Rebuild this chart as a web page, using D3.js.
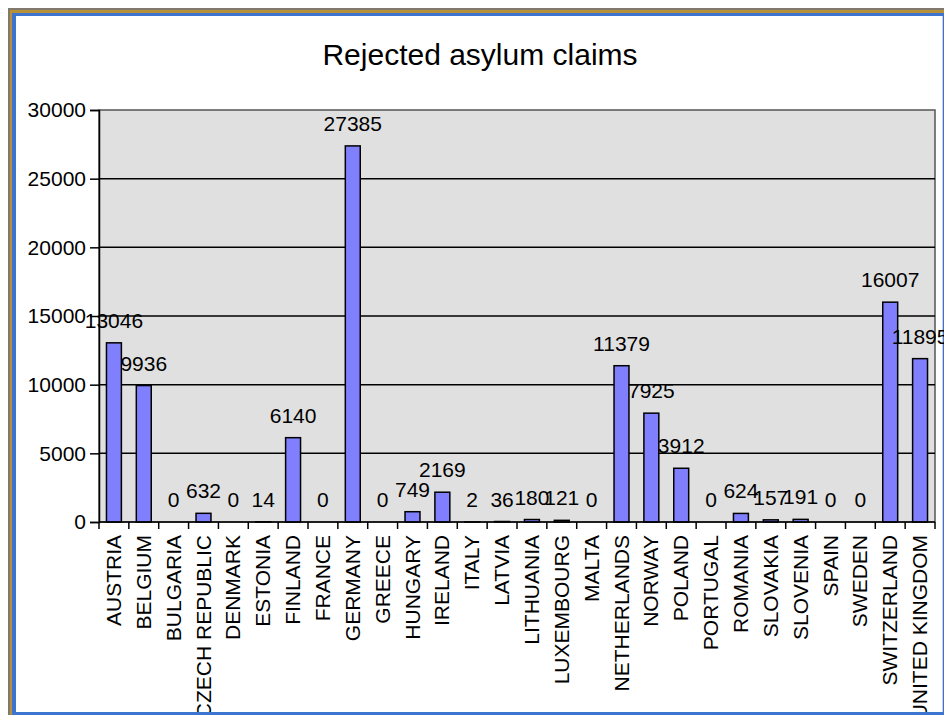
<!DOCTYPE html>
<html>
<head>
<meta charset="utf-8">
<script src="https://cdn.jsdelivr.net/npm/d3@7"></script>
<style>
body { margin: 0; background: #fff; }
text { font-family: "Liberation Sans", Arial, sans-serif; }
</style>
</head>
<body>
<div id="chart"></div>
<script>
var countries = ["AUSTRIA", "BELGIUM", "BULGARIA", "CZECH REPUBLIC", "DENMARK", "ESTONIA",
  "FINLAND", "FRANCE", "GERMANY", "GREECE", "HUNGARY", "IRELAND", "ITALY", "LATVIA",
  "LITHUANIA", "LUXEMBOURG", "MALTA", "NETHERLANDS", "NORWAY", "POLAND", "PORTUGAL",
  "ROMANIA", "SLOVAKIA", "SLOVENIA", "SPAIN", "SWEDEN", "SWITZERLAND", "UNITED KINGDOM"];
var rejected = [13046, 9936, 0, 632, 0, 14, 6140, 0, 27385, 0, 749, 2169, 2, 36,
  180, 121, 0, 11379, 7925, 3912, 0, 624, 157, 191, 0, 0, 16007, 11895];
var yTicks = [0, 5000, 10000, 15000, 20000, 25000, 30000];

var W = 944, H = 715;
var pLeft = 99, pRight = 935, pTop = 110, pBottom = 522;

var svg = d3.select("#chart").append("svg")
    .attr("width", W)
    .attr("height", H);

// window frame
svg.append("rect").attr("x", 8).attr("y", 8).attr("width", W - 8).attr("height", H - 8).attr("fill", "#7f7a6c");
svg.append("rect").attr("x", 10).attr("y", 10).attr("width", W - 10).attr("height", H - 10).attr("fill", "#b8903a");
svg.append("rect").attr("x", 12).attr("y", 13).attr("width", W - 12).attr("height", H - 13).attr("fill", "#3d74d0");
svg.append("rect").attr("x", 16).attr("y", 16).attr("width", 926).attr("height", 696).attr("fill", "#ffffff");
svg.append("line").attr("x1", 942.5).attr("x2", 942.5).attr("y1", 16).attr("y2", 712).attr("stroke", "#c8cde0");

svg.append("defs").append("clipPath").attr("id", "inner")
    .append("rect").attr("x", 16).attr("y", 16).attr("width", 926).attr("height", 696);

var x = d3.scaleBand()
    .domain(countries)
    .range([pLeft, pRight])
    .paddingInner(0.5)
    .paddingOuter(0.25);

var y = d3.scaleLinear()
    .domain([0, 30000])
    .range([pBottom, pTop]);

svg.append("text")
    .attr("x", 480)
    .attr("y", 65)
    .attr("text-anchor", "middle")
    .attr("font-size", "30px")
    .attr("fill", "#000")
    .text("Rejected asylum claims");

// plot area
svg.append("rect")
    .attr("x", pLeft).attr("y", pTop)
    .attr("width", pRight - pLeft).attr("height", pBottom - pTop)
    .attr("fill", "#e0e0e0")
    .attr("stroke", "#555")
    .attr("stroke-width", 1.5);

svg.selectAll(".grid").data(yTicks.slice(1, -1)).enter().append("line")
    .attr("x1", pLeft).attr("x2", pRight)
    .attr("y1", function(d){ return y(d); })
    .attr("y2", function(d){ return y(d); })
    .attr("stroke", "#000")
    .attr("stroke-width", 1.5);

var yAxis = svg.append("g")
    .attr("transform", "translate(" + pLeft + ",0)")
    .call(d3.axisLeft(y).tickValues(yTicks).tickSize(9).tickPadding(4).tickFormat(d3.format("d")));
yAxis.selectAll("text").attr("font-size", "21px").attr("fill", "#000").attr("font-family", "Liberation Sans, Arial, sans-serif");
yAxis.selectAll("line").attr("stroke", "#000").attr("stroke-width", 1.5);
yAxis.select(".domain").attr("stroke", "#000").attr("stroke-width", 1.5);

// bars
svg.selectAll(".bar").data(countries).enter().append("rect")
    .attr("x", function(d){ return x(d); })
    .attr("y", function(d, i){ return y(rejected[i]); })
    .attr("width", x.bandwidth())
    .attr("height", function(d, i){ return pBottom - y(rejected[i]); })
    .attr("fill", "#8080ff")
    .attr("stroke", "#000")
    .attr("stroke-width", 1.5);

// x axis with ticks at band boundaries
svg.append("line")
    .attr("x1", pLeft).attr("x2", pRight)
    .attr("y1", pBottom).attr("y2", pBottom)
    .attr("stroke", "#000").attr("stroke-width", 1.5);
var bounds = countries.map(function(d){ return x(d) - x.step() * x.paddingInner() / 2; }).concat([pRight]);
svg.selectAll(".xtick").data(bounds).enter().append("line")
    .attr("x1", function(d){ return d; }).attr("x2", function(d){ return d; })
    .attr("y1", pBottom).attr("y2", pBottom + 7)
    .attr("stroke", "#000").attr("stroke-width", 1.5);

// value labels
svg.selectAll(".val").data(countries).enter().append("text")
    .attr("x", function(d){ return x(d) + x.bandwidth() / 2; })
    .attr("y", function(d, i){ return y(rejected[i]) - 15; })
    .attr("text-anchor", "middle")
    .attr("font-size", "21px")
    .attr("fill", "#000")
    .text(function(d, i){ return rejected[i]; });

// category labels
svg.append("g").attr("clip-path", "url(#inner)")
    .selectAll(".cat").data(countries).enter().append("text")
    .attr("transform", function(d){
      return "translate(" + (x(d) + x.bandwidth() / 2 + 7) + "," + (pBottom + 13) + ") rotate(-90)";
    })
    .attr("text-anchor", "end")
    .attr("font-size", "21px")
    .attr("fill", "#000")
    .text(function(d){ return d; });
</script>
</body>
</html>
